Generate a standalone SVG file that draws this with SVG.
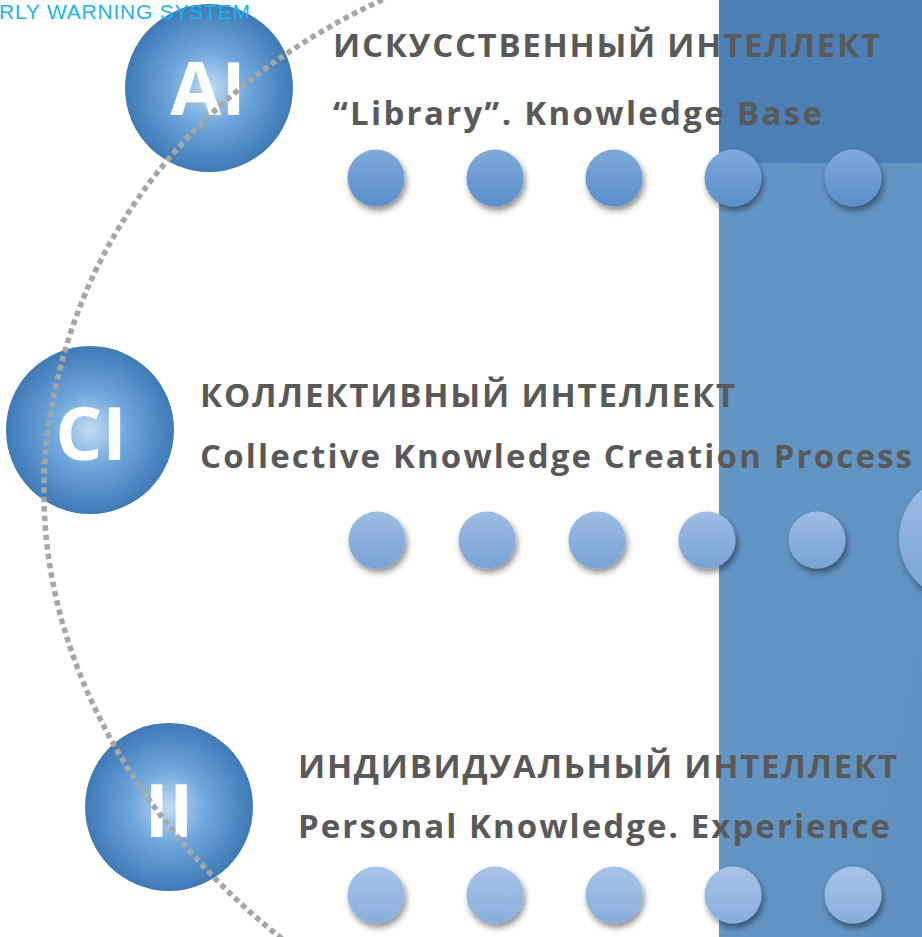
<svg xmlns="http://www.w3.org/2000/svg" width="922" height="937" viewBox="0 0 922 937">
<style>
.title{font-family:"Open Sans","DejaVu Sans",sans-serif;font-weight:bold;font-size:33px;fill:#595959}
.big{font-family:"Open Sans","DejaVu Sans",sans-serif;font-weight:bold;font-size:74px;fill:#ffffff;text-anchor:middle}
.ews{font-family:"Liberation Sans",Arial,sans-serif;font-size:21px;fill:#1cb4ea}
.arc{fill:none;stroke:#a6a6a6;stroke-width:5.5;stroke-dasharray:5.5 4}
</style>
<defs>
<radialGradient id="bigG" cx="0.5" cy="0.5" r="0.5">
<stop offset="0" stop-color="#c3dcf1"/>
<stop offset="0.45" stop-color="#6ea7dc"/>
<stop offset="1" stop-color="#3f7ab5"/>
</radialGradient>
<linearGradient id="dot1" x1="0" y1="0" x2="0" y2="1">
<stop offset="0" stop-color="#80a9da"/>
<stop offset="1" stop-color="#5a8fca"/>
</linearGradient>
<linearGradient id="dot2" x1="0" y1="0" x2="0" y2="1">
<stop offset="0" stop-color="#9dbde3"/>
<stop offset="1" stop-color="#78a3d6"/>
</linearGradient>
<linearGradient id="dot3" x1="0" y1="0" x2="0" y2="1">
<stop offset="0" stop-color="#a8c4e8"/>
<stop offset="1" stop-color="#88afdc"/>
</linearGradient>
<linearGradient id="panel" x1="0" y1="0" x2="1" y2="1">
<stop offset="0" stop-color="#6598c8"/>
<stop offset="1" stop-color="#5f91c0"/>
</linearGradient>
<filter id="sh" x="-30%" y="-30%" width="170%" height="170%">
<feDropShadow dx="2" dy="4" stdDeviation="3" flood-color="#000" flood-opacity="0.45"/>
</filter>
</defs>

<g id="panel-bg">
<rect x="719" y="0" width="203" height="937" fill="url(#panel)"/>
<rect x="719" y="0" width="203" height="163" fill="#4c7fb5"/>
</g>

<g id="node-ai">
<circle cx="209" cy="88" r="84" fill="url(#bigG)"/>
<text class="big" x="208" y="115">AI</text>
</g>
<g id="node-ci">
<circle cx="90" cy="430" r="84" fill="url(#bigG)"/>
<text class="big" x="91" y="460">CI</text>
</g>
<g id="node-ii">
<circle cx="169" cy="807" r="84" fill="url(#bigG)"/>
<text class="big" x="169" y="837">II</text>
</g>

<g id="connectors">
<path class="arc" d="M 400 -8 C 240 60 80 200 48 430 C 20 640 140 830 290 945"/>
</g>

<text class="ews" x="-1" y="19" textLength="251">RLY WARNING SYSTEM</text>

<g id="label-ai">
<text class="title" x="333" y="57" textLength="547">ИСКУССТВЕННЫЙ ИНТЕЛЛЕКТ</text>
<text class="title" x="333" y="125" textLength="489">“Library”. Knowledge Base</text>
</g>
<g id="label-ci">
<text class="title" x="200" y="407" textLength="535">КОЛЛЕКТИВНЫЙ ИНТЕЛЛЕКТ</text>
<text class="title" x="200" y="468" textLength="712">Collective Knowledge Creation Process</text>
</g>
<g id="label-ii">
<text class="title" x="298" y="778" textLength="599">ИНДИВИДУАЛЬНЫЙ ИНТЕЛЛЕКТ</text>
<text class="title" x="298" y="838" textLength="592">Personal Knowledge. Experience</text>
</g>

<g id="dots-ai" filter="url(#sh)" fill="url(#dot1)">
<circle cx="376" cy="178" r="28.5"/>
<circle cx="495" cy="178" r="28.5"/>
<circle cx="614" cy="178" r="28.5"/>
<circle cx="733" cy="178" r="28.5"/>
<circle cx="853" cy="178" r="28.5"/>
</g>
<g id="dots-ci" filter="url(#sh)" fill="url(#dot2)">
<circle cx="377" cy="540" r="28.5"/>
<circle cx="487" cy="540" r="28.5"/>
<circle cx="597" cy="540" r="28.5"/>
<circle cx="707" cy="540" r="28.5"/>
<circle cx="817" cy="540" r="28.5"/>
<circle cx="962" cy="538" r="63"/>
</g>
<g id="dots-ii" filter="url(#sh)" fill="url(#dot3)">
<circle cx="376" cy="895" r="28.5"/>
<circle cx="495" cy="895" r="28.5"/>
<circle cx="614" cy="895" r="28.5"/>
<circle cx="733" cy="895" r="28.5"/>
<circle cx="853" cy="895" r="28.5"/>
</g>
</svg>
